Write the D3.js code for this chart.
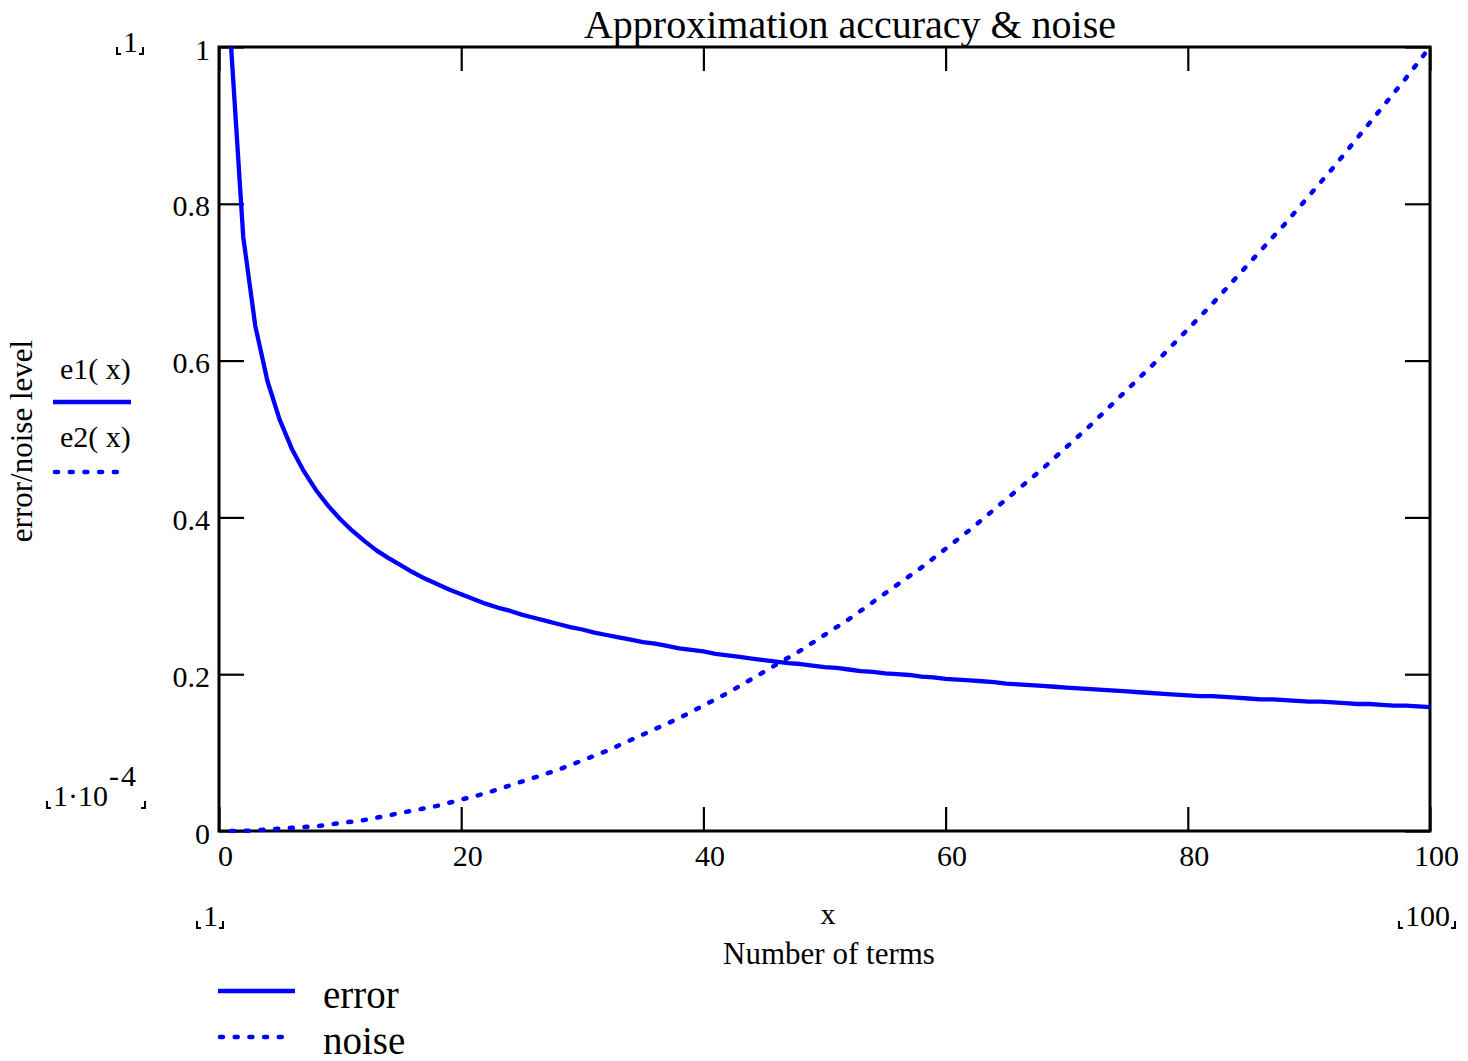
<!DOCTYPE html>
<html>
<head>
<meta charset="utf-8">
<script src="https://cdn.jsdelivr.net/npm/d3@7"></script>
<style>
  html, body { margin: 0; padding: 0; background: #fff; }
  svg { display: block; }
  text { font-family: "Liberation Serif", "Times New Roman", serif; fill: #000; }
</style>
</head>
<body>
<svg id="chart" width="1468" height="1061"></svg>
<script>
// ---- data ----
const xs = [1,2,3,4,5,6,7,8,9,10,11,12,13,14,15,16,17,18,19,20,21,22,23,24,25,26,27,28,29,30,31,32,33,34,35,36,37,38,39,40,41,42,43,44,45,46,47,48,49,50,51,52,53,54,55,56,57,58,59,60,61,62,63,64,65,66,67,68,69,70,71,72,73,74,75,76,77,78,79,80,81,82,83,84,85,86,87,88,89,90,91,92,93,94,95,96,97,98,99,100];
const errorVals = [1.000,0.758,0.644,0.574,0.525,0.488,0.459,0.435,0.415,0.398,0.383,0.370,0.358,0.348,0.339,0.330,0.322,0.315,0.308,0.302,0.296,0.290,0.285,0.281,0.276,0.272,0.268,0.264,0.260,0.257,0.253,0.250,0.247,0.244,0.241,0.239,0.236,0.233,0.231,0.229,0.226,0.224,0.222,0.220,0.218,0.216,0.214,0.213,0.211,0.209,0.208,0.206,0.204,0.203,0.201,0.200,0.199,0.197,0.196,0.194,0.193,0.192,0.191,0.190,0.188,0.187,0.186,0.185,0.184,0.183,0.182,0.181,0.180,0.179,0.178,0.177,0.176,0.175,0.174,0.173,0.172,0.172,0.171,0.170,0.169,0.168,0.168,0.167,0.166,0.165,0.165,0.164,0.163,0.162,0.162,0.161,0.160,0.160,0.159,0.158];
const noiseVals = [0.000,0.000,0.001,0.002,0.003,0.004,0.005,0.006,0.008,0.010,0.012,0.014,0.017,0.020,0.023,0.026,0.029,0.032,0.036,0.040,0.044,0.048,0.053,0.058,0.063,0.068,0.073,0.078,0.084,0.090,0.096,0.102,0.109,0.116,0.123,0.130,0.137,0.144,0.152,0.160,0.168,0.176,0.185,0.194,0.203,0.212,0.221,0.230,0.240,0.250,0.260,0.270,0.281,0.292,0.303,0.314,0.325,0.336,0.348,0.360,0.372,0.384,0.397,0.410,0.423,0.436,0.449,0.462,0.476,0.490,0.504,0.518,0.533,0.548,0.563,0.578,0.593,0.608,0.624,0.640,0.656,0.672,0.689,0.706,0.723,0.740,0.757,0.774,0.792,0.810,0.828,0.846,0.865,0.884,0.903,0.922,0.941,0.960,0.980,1.000];
const xTicks = [0,20,40,60,80,100];
const yTicks = [0,0.2,0.4,0.6,0.8,1];
const yTickLabels = ["0","0.2","0.4","0.6","0.8","1"];
const title = "Approximation accuracy & noise";
const yTitle = "error/noise level";
const xTitle1 = "x";
const xTitle2 = "Number of terms";
const traceNames = ["e1( x)", "e2( x)"];
const legendNames = ["error", "noise"];

// ---- layout ----
const L = 219, R = 1430, T = 47, B = 831;
const BLUE = "#0000ff";
const svg = d3.select("#chart");
const x = d3.scaleLinear().domain([0,100]).range([L,R]);
const y = d3.scaleLinear().domain([0,1]).range([B,T]);

svg.append("defs").append("clipPath").attr("id","plotclip")
  .append("rect").attr("x",L).attr("y",T-2).attr("width",R-L).attr("height",B-T+4);

const styleAxis = g => { g.select(".domain").remove(); g.selectAll(".tick line").attr("stroke","#000").attr("stroke-width",2.2); };

const gB = svg.append("g").attr("transform",`translate(0,${B})`)
  .call(d3.axisBottom(x).tickValues(xTicks).tickSize(-24).tickFormat(d3.format("d")));
styleAxis(gB);
gB.selectAll(".tick text").attr("y",35).attr("dy",null).attr("dx",6)
  .attr("font-size",30).attr("font-family","Liberation Serif").attr("fill","#000");

const gT = svg.append("g").attr("transform",`translate(0,${T})`)
  .call(d3.axisTop(x).tickValues(xTicks).tickSize(-24).tickFormat(""));
styleAxis(gT);

const gL = svg.append("g").attr("transform",`translate(${L},0)`)
  .call(d3.axisLeft(y).tickValues(yTicks).tickSize(-25).tickFormat((d,i)=>yTickLabels[i]));
styleAxis(gL);
gL.selectAll(".tick text").attr("x",-9).attr("dy",12)
  .attr("font-size",30).attr("font-family","Liberation Serif").attr("fill","#000");

const gR = svg.append("g").attr("transform",`translate(${R},0)`)
  .call(d3.axisRight(y).tickValues(yTicks).tickSize(-25).tickFormat(""));
styleAxis(gR);

// frame
svg.append("rect").attr("x",L).attr("y",T).attr("width",R-L).attr("height",B-T)
  .attr("fill","none").attr("stroke","#000").attr("stroke-width",3);

// curves
const line = d3.line().x((d,i)=>x(xs[i])).y(d=>y(d)).curve(d3.curveLinear);
const plot = svg.append("g").attr("clip-path","url(#plotclip)");
plot.append("path").attr("d",line(errorVals)).attr("fill","none")
  .attr("stroke",BLUE).attr("stroke-width",4.3).attr("stroke-linejoin","round");
plot.append("path").attr("d",line(noiseVals)).attr("fill","none")
  .attr("stroke",BLUE).attr("stroke-width",4.5).attr("stroke-linecap","round")
  .attr("stroke-dasharray","3,11.7");

// title
svg.append("text").attr("x",850).attr("y",38).attr("text-anchor","middle")
  .attr("font-size",40).text(title);

// y title
svg.append("text").attr("transform","translate(32,441) rotate(-90)")
  .attr("text-anchor","middle").attr("font-size",31).text(yTitle);

// x titles
svg.append("text").attr("x",828).attr("y",924).attr("text-anchor","middle").attr("font-size",30).text(xTitle1);
svg.append("text").attr("x",829).attr("y",964).attr("text-anchor","middle").attr("font-size",31).text(xTitle2);

// left trace legend
svg.append("text").attr("x",60).attr("y",379).attr("font-size",30).text(traceNames[0]);
svg.append("line").attr("x1",53).attr("x2",131).attr("y1",402).attr("y2",402)
  .attr("stroke",BLUE).attr("stroke-width",4.3);
svg.append("text").attr("x",60).attr("y",447).attr("font-size",30).text(traceNames[1]);
svg.append("line").attr("x1",55).attr("x2",118).attr("y1",472).attr("y2",472)
  .attr("stroke",BLUE).attr("stroke-width",4.5).attr("stroke-linecap","round").attr("stroke-dasharray","3,11.7");

// bottom legend
svg.append("line").attr("x1",218).attr("x2",295).attr("y1",991).attr("y2",991)
  .attr("stroke",BLUE).attr("stroke-width",4.3);
svg.append("text").attr("x",323).attr("y",1008).attr("font-size",39).text(legendNames[0]);
svg.append("line").attr("x1",220).attr("x2",283).attr("y1",1037).attr("y2",1037)
  .attr("stroke",BLUE).attr("stroke-width",4.5).attr("stroke-linecap","round").attr("stroke-dasharray","3,11.7");
svg.append("text").attr("x",323).attr("y",1054).attr("font-size",39).text(legendNames[1]);

// limit markers with corner brackets
function brackets(x0, x1, yb) {
  const g = svg.append("g").attr("fill","none").attr("stroke","#000").attr("stroke-width",2);
  g.append("path").attr("d",`M${x0},${yb-7}V${yb}H${x0+4}`);
  g.append("path").attr("d",`M${x1-4},${yb}H${x1}V${yb-7}`);
}
function limit(label, xs0, yb) {
  const t = svg.append("text").attr("x",xs0).attr("y",yb).attr("font-size",30).text(label);
  const w = t.node().getComputedTextLength();
  brackets(xs0-6, xs0+w+5, yb+2);
}
limit("1", 123, 52);
limit("1", 203, 926);
limit("100", 1405, 926);
// 1·10^-4 as one text with superscript
const sci = svg.append("text").attr("x",53).attr("y",806).attr("font-size",30);
sci.append("tspan").text("1\u00b710");
sci.append("tspan").attr("dy",-20).attr("dx",1).text("-");
sci.append("tspan").attr("dx",2).text("4");
brackets(47, 145, 808);
</script>
</body>
</html>
